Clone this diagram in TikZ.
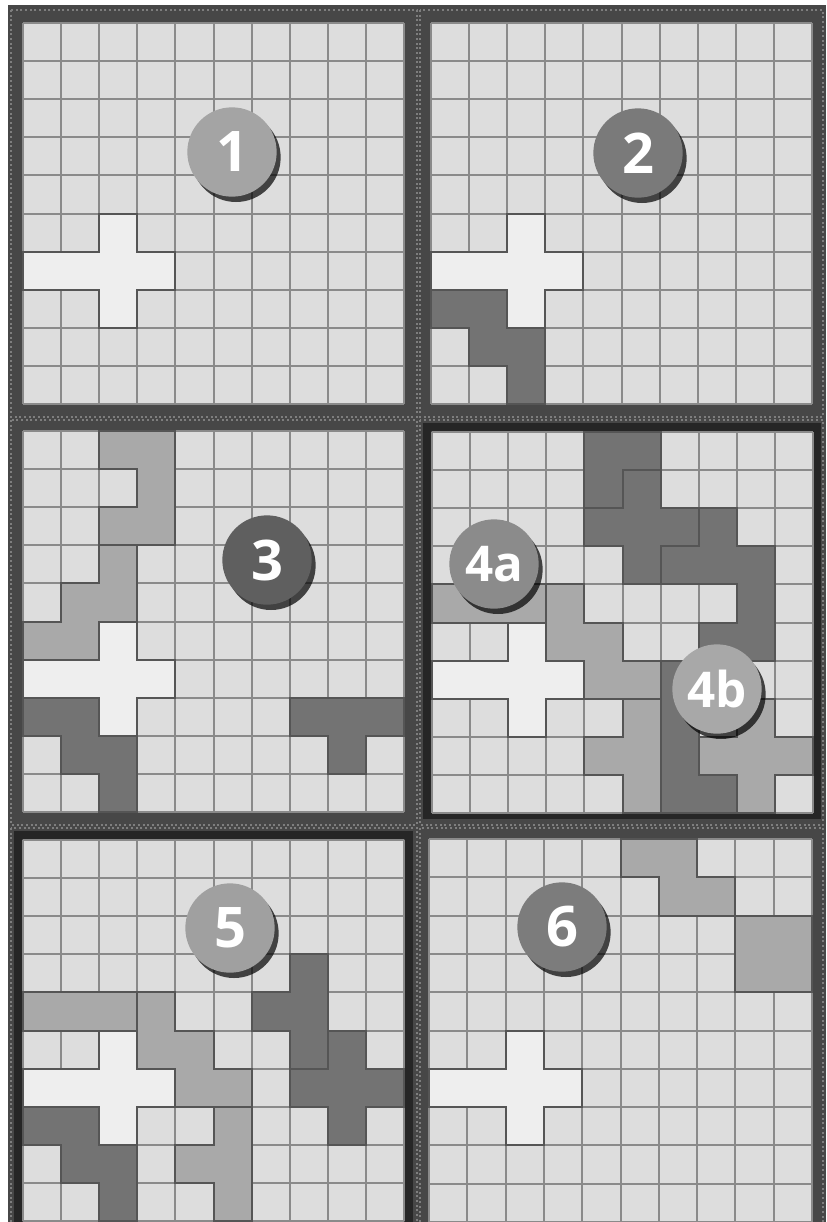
\documentclass[tikz,border=0pt]{standalone}
\usepackage{fontspec}
\newfontfamily\numfont{Open Sans}
\usetikzlibrary{shadows}
\definecolor{bgc}{HTML}{474747}
\definecolor{cellc}{HTML}{DDDDDD}
\definecolor{gridc}{HTML}{8A8A8A}
\definecolor{plusc}{HTML}{EEEEEE}
\definecolor{midc}{HTML}{A9A9A9}
\definecolor{darkc}{HTML}{737373}
\definecolor{edgec}{HTML}{555555}
\definecolor{sepc}{HTML}{7E7E7E}
\definecolor{framec}{HTML}{262626}
\definecolor{cone}{HTML}{A4A4A4}
\definecolor{ctwo}{HTML}{7A7A7A}
\definecolor{cthree}{HTML}{5F5F5F}
\definecolor{cfoura}{HTML}{8B8B8B}
\definecolor{cfourb}{HTML}{A8A8A8}
\definecolor{cfive}{HTML}{A0A0A0}
\definecolor{csix}{HTML}{7C7C7C}
\newcommand\gridpanel{%
  \fill[cellc] (0,0) rectangle (10,10);
  \foreach \i in {0,...,10} {
    \draw[cellgrid] (\i,0) -- (\i,10);
    \draw[cellgrid] (0,\i) -- (10,\i);
  }
}
\newcommand\whiteplus{%
  \draw[lightpiece] (2,5) -- (3,5) -- (3,6) -- (4,6) -- (4,7) -- (3,7) -- (3,8) -- (2,8) -- (2,7) -- (0,7) -- (0,6) -- (2,6) -- cycle;
}
\newcommand\darkcorner{%
  \draw[darkpiece] (0,7) -- (2,7) -- (2,8) -- (3,8) -- (3,10) -- (2,10) -- (2,9) -- (1,9) -- (1,8) -- (0,8) -- cycle;
}
\begin{document}
\begin{tikzpicture}[x=0.75pt,y=-0.75pt,
  cellgrid/.style={draw=gridc,line width=1.5pt},
  piece/.style={draw=edgec,line width=1.5pt},
  lightpiece/.style={piece,fill=plusc},
  midpiece/.style={piece,fill=midc},
  darkpiece/.style={piece,fill=darkc},
  badge/.style={circle,minimum size=67pt,inner sep=0pt,text=white,
    font=\numfont\bfseries\fontsize{42}{42}\selectfont,
    drop shadow={shadow xshift=3pt,shadow yshift=-4pt,fill=black,opacity=0.7}},
  smallbadge/.style={badge,font=\numfont\bfseries\fontsize{37}{37}\selectfont},
  sepline/.style={draw=sepc,line width=1.5pt,dotted},
  heavyframe/.style={draw=framec,line width=6pt}
]
\useasboundingbox (0,0) rectangle (826,1222);
\fill[bgc] (0,0) rectangle (826,1222);
\fill[white] (0,0) rectangle (826,5);
\fill[white] (0,0) rectangle (8,1222);
% separators
\draw[sepline] (11,10) rectangle (417,417);
\draw[sepline] (420,10) rectangle (823,417);
\draw[sepline] (11,420) rectangle (417,825);
\draw[sepline] (420,420) rectangle (823,825);
\draw[sepline] (11,828) rectangle (417,1232);
\draw[sepline] (420,828) rectangle (823,1232);
% heavy frames
\draw[heavyframe] (427,427) rectangle (817,815);
\draw[heavyframe] (17.5,834.5) rectangle (409,1230);

% ---------- panel 1
\begin{scope}[shift={(23,23)},scale=38.1]
  \gridpanel
  \whiteplus
\end{scope}
\node[badge,fill=cone] (b1) at (232,152) {1};

% ---------- panel 2
\begin{scope}[shift={(431,23)},scale=38.1]
  \gridpanel
  \whiteplus
  \darkcorner
\end{scope}
\node[badge,fill=ctwo] (b2) at (638,153) {2};

% ---------- panel 3
\begin{scope}[shift={(23,431)},scale=38.1]
  \gridpanel
  \draw[midpiece] (2,0) -- (4,0) -- (4,3) -- (2,3) -- (2,2) -- (3,2) -- (3,1) -- (2,1) -- cycle;
  \draw[midpiece] (2,3) -- (3,3) -- (3,5) -- (2,5) -- (2,6) -- (0,6) -- (0,5) -- (1,5) -- (1,4) -- (2,4) -- cycle;
  \whiteplus
  \darkcorner
  \draw[darkpiece] (7,7) -- (10,7) -- (10,8) -- (9,8) -- (9,9) -- (8,9) -- (8,8) -- (7,8) -- cycle;
\end{scope}
\node[badge,fill=cthree] (b3) at (267,560) {3};

% ---------- panel 4
\begin{scope}[shift={(432,432)},scale=38.1]
  \gridpanel
  \whiteplus
  \draw[midpiece] (0,4) rectangle (3,5);
  \draw[midpiece] (3,4) -- (4,4) -- (4,5) -- (5,5) -- (5,6) -- (6,6) -- (6,7) -- (4,7) -- (4,6) -- (3,6) -- cycle;
  \draw[midpiece] (5,7) -- (6,7) -- (6,10) -- (5,10) -- (5,9) -- (4,9) -- (4,8) -- (5,8) -- cycle;
  \draw[darkpiece] (6,6) -- (7,6) -- (7,9) -- (8,9) -- (8,10) -- (6,10) -- cycle;
  \draw[midpiece] (8,7) -- (9,7) -- (9,8) -- (10,8) -- (10,9) -- (9,9) -- (9,10) -- (8,10) -- (8,9) -- (7,9) -- (7,8) -- (8,8) -- cycle;
  \draw[darkpiece] (4,0) -- (6,0) -- (6,1) -- (5,1) -- (5,2) -- (4,2) -- cycle;
  \draw[darkpiece] (5,1) -- (6,1) -- (6,2) -- (7,2) -- (7,3) -- (6,3) -- (6,4) -- (5,4) -- (5,3) -- (4,3) -- (4,2) -- (5,2) -- cycle;
  \draw[darkpiece] (7,2) -- (8,2) -- (8,3) -- (9,3) -- (9,6) -- (7,6) -- (7,5) -- (8,5) -- (8,4) -- (6,4) -- (6,3) -- (7,3) -- cycle;
\end{scope}
\node[smallbadge,fill=cfoura] (b4a) at (494,564) {4a};
\node[smallbadge,fill=cfourb] (b4b) at (717,689) {4b};

% ---------- panel 5
\begin{scope}[shift={(23,840)},scale=38.1]
  \gridpanel
  \draw[midpiece] (0,4) rectangle (3,5);
  \draw[midpiece] (3,4) -- (4,4) -- (4,5) -- (5,5) -- (5,6) -- (6,6) -- (6,7) -- (4,7) -- (4,6) -- (3,6) -- cycle;
  \draw[midpiece] (5,7) -- (6,7) -- (6,10) -- (5,10) -- (5,9) -- (4,9) -- (4,8) -- (5,8) -- cycle;
  \whiteplus
  \darkcorner
  \draw[darkpiece] (7,3) -- (8,3) -- (8,6) -- (7,6) -- (7,5) -- (6,5) -- (6,4) -- (7,4) -- cycle;
  \draw[darkpiece] (8,5) -- (9,5) -- (9,6) -- (10,6) -- (10,7) -- (9,7) -- (9,8) -- (8,8) -- (8,7) -- (7,7) -- (7,6) -- (8,6) -- cycle;
\end{scope}
\node[badge,fill=cfive] (b5) at (230,928) {5};

% ---------- panel 6
\begin{scope}[shift={(429,839)},scale=38.3]
  \gridpanel
  \whiteplus
  \draw[midpiece] (5,0) -- (7,0) -- (7,1) -- (8,1) -- (8,2) -- (6,2) -- (6,1) -- (5,1) -- cycle;
  \draw[midpiece] (8,2) rectangle (10,4);
\end{scope}
\node[badge,fill=csix] (b6) at (562,927) {6};
\end{tikzpicture}
\end{document}
